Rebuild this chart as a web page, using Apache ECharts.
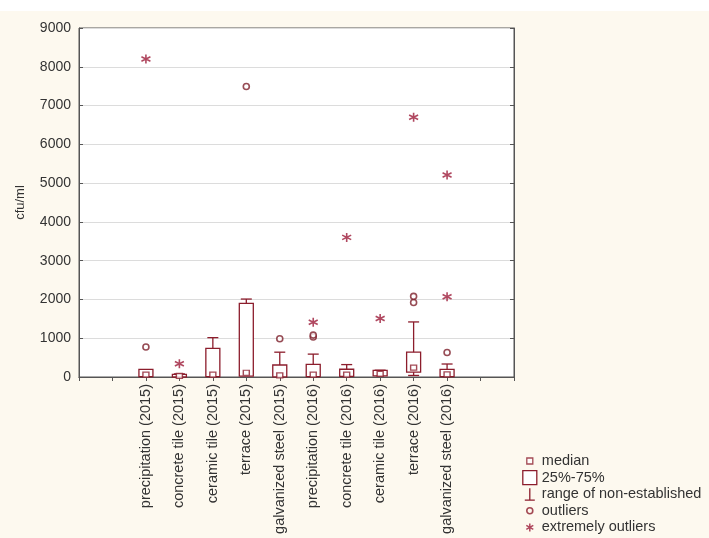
<!DOCTYPE html>
<html>
<head>
<meta charset="utf-8">
<script src="https://cdn.jsdelivr.net/npm/echarts@6/dist/echarts.min.js"></script>
<style>
html, body { margin: 0; padding: 0; background: #fdf9ef; }
#chart { width: 709px; height: 538px; }
</style>
</head>
<body>
<div id="chart"></div>
<script>
var categories = ['precipitation (2015)', 'concrete tile (2015)', 'ceramic tile (2015)', 'terrace (2015)', 'galvanized steel (2015)',
  'precipitation (2016)', 'concrete tile (2016)', 'ceramic tile (2016)', 'terrace (2016)', 'galvanized steel (2016)'];
// box 25%-75%
var q1 = [10, 0, 10, 20, 5, 10, 15, 30, 125, 10];
var q3 = [195, 70, 740, 1900, 310, 325, 200, 170, 640, 195];
var medians = [60, 30, 60, 110, 40, 60, 60, 80, 240, 70];
// range of non-established (whiskers)
var whiskerHigh = [195, 80, 1015, 2010, 640, 590, 320, 175, 1420, 335];
var whiskerLow = [10, 0, 10, 20, 5, 10, 15, 30, 40, 10];
var outliers = [
  ['precipitation (2015)', 775], ['terrace (2015)', 7490], ['galvanized steel (2015)', 985],
  ['precipitation (2016)', 1030], ['precipitation (2016)', 1080],
  ['terrace (2016)', 1920], ['terrace (2016)', 2080], ['galvanized steel (2016)', 630]
];
var extremes = [
  ['precipitation (2015)', 8200], ['concrete tile (2015)', 340], ['precipitation (2016)', 1410],
  ['concrete tile (2016)', 3600], ['ceramic tile (2016)', 1510], ['terrace (2016)', 6700],
  ['galvanized steel (2016)', 2070], ['galvanized steel (2016)', 5210]
];
var yTicks = { min: 0, max: 9000, step: 1000 };

var boxColor = '#8c1d2c';
var starColor = '#9c1a38';
// blank slots at both ends of the axis, like the original
var axisCats = ['', ' '].concat(categories, ['  ', '   ']);

var starPath = 'path://M5,0L5,10M0.7,2.5L9.3,7.5M0.7,7.5L9.3,2.5';

function renderBox(params, api) {
  var x = api.value(0);
  var lo = api.coord([x, api.value(1)]);
  var hi = api.coord([x, api.value(2)]);
  var half = 7;
  return {
    type: 'rect',
    shape: { x: hi[0] - half, y: hi[1], width: half * 2, height: Math.max(lo[1] - hi[1], 1) },
    style: { fill: '#fff', stroke: boxColor, lineWidth: 1.3 }
  };
}

function renderWhisker(params, api) {
  var x = api.value(0);
  var top = api.coord([x, api.value(1)]);
  var hi = api.coord([x, api.value(2)]);
  var bot = api.coord([x, api.value(3)]);
  var lo = api.coord([x, api.value(4)]);
  var cap = 5.5;
  var st = { stroke: boxColor, lineWidth: 1.3 };
  var kids = [];
  if (api.value(2) > api.value(1)) {
    kids.push({ type: 'line', shape: { x1: hi[0], y1: top[1], x2: hi[0], y2: hi[1] }, style: st });
    kids.push({ type: 'line', shape: { x1: hi[0] - cap, y1: hi[1], x2: hi[0] + cap, y2: hi[1] }, style: st });
  }
  if (api.value(4) < api.value(3)) {
    kids.push({ type: 'line', shape: { x1: lo[0], y1: bot[1], x2: lo[0], y2: lo[1] }, style: st });
    kids.push({ type: 'line', shape: { x1: lo[0] - cap, y1: lo[1], x2: lo[0] + cap, y2: lo[1] }, style: st });
  }
  return { type: 'group', children: kids };
}

var boxData = categories.map(function (c, i) { return [c, q1[i], q3[i]]; });
var whiskerData = categories.map(function (c, i) { return [c, q3[i], whiskerHigh[i], q1[i], whiskerLow[i]]; });
var medianData = categories.map(function (c, i) { return [c, medians[i]]; });

var chart = echarts.init(document.getElementById('chart'));
chart.setOption({
  backgroundColor: '#fdf9ef',
  animation: false,
  textStyle: { fontFamily: 'Liberation Sans, Arial, sans-serif' },
  graphic: [{
    type: 'rect', left: 0, top: 0, z: -10,
    shape: { width: 709, height: 11 },
    style: { fill: '#ffffff' }
  }],
  grid: { left: 79, top: 28, width: 435, height: 349, show: true, backgroundColor: '#fff', borderColor: '#555', borderWidth: 1 },
  legend: {
    orient: 'vertical',
    left: 522,
    top: 453,
    padding: 0,
    itemWidth: 14,
    itemHeight: 14,
    itemGap: 0.6,
    textStyle: { color: '#333', fontSize: 14.5, lineHeight: 16 },
    data: [
      { name: 'median', icon: 'path://M0,0M14,14M4,4L10,4L10,10L4,10Z',
        itemStyle: { color: '#fff', borderColor: boxColor, borderWidth: 1.3 } },
      { name: '25%-75%', icon: 'rect',
        itemStyle: { color: '#fff', borderColor: boxColor, borderWidth: 1.3 } },
      { name: 'range of non-established', icon: 'path://M0,0M14,14M7,1L7,13M2,13L12,13',
        itemStyle: { color: 'rgba(0,0,0,0)', borderColor: boxColor, borderWidth: 1.3 } },
      { name: 'outliers', icon: 'path://M0,0M14,14M7,4A3,3,0,1,1,6.99,4Z',
        itemStyle: { color: 'rgba(0,0,0,0)', borderColor: boxColor, borderWidth: 1.6 } },
      { name: 'extremely outliers', icon: 'path://M0,0M14,14M7,3L7,11M3.5,5L10.5,9M3.5,9L10.5,5',
        itemStyle: { color: 'rgba(0,0,0,0)', borderColor: starColor, borderWidth: 1.5 } }
    ]
  },
  xAxis: [{
    type: 'category',
    data: axisCats,
    boundaryGap: false,
    axisLine: { lineStyle: { color: '#555' } },
    axisTick: { show: false },
    axisLabel: { rotate: 90, interval: 0, color: '#333', fontSize: 14.5, margin: 7 },
    splitLine: { show: false }
  }, {
    type: 'category',
    position: 'top',
    data: axisCats,
    boundaryGap: false,
    axisLine: { lineStyle: { color: '#555' } },
    axisTick: { show: true, inside: true, length: 4, interval: 0, lineStyle: { color: '#555' } },
    axisLabel: { show: false },
    splitLine: { show: false }
  }],
  yAxis: [{
    type: 'value',
    min: yTicks.min,
    max: yTicks.max,
    interval: yTicks.step,
    name: 'cfu/ml',
    nameLocation: 'middle',
    nameGap: 52,
    nameTextStyle: { color: '#333', fontSize: 13 },
    axisLine: { show: true, lineStyle: { color: '#555' } },
    axisTick: { show: true, inside: true, length: 4, lineStyle: { color: '#555' } },
    axisLabel: { color: '#333', fontSize: 14, margin: 8, formatter: function (v) { return String(v); } },
    splitLine: { lineStyle: { color: '#dcdcdc' } }
  }, {
    type: 'value',
    position: 'right',
    min: yTicks.min,
    max: yTicks.max,
    interval: yTicks.step,
    axisLine: { show: true, lineStyle: { color: '#555' } },
    axisTick: { show: true, inside: true, length: 4, lineStyle: { color: '#555' } },
    axisLabel: { show: false },
    splitLine: { show: false }
  }],
  series: [{
    name: '25%-75%',
    type: 'custom',
    renderItem: renderBox,
    itemStyle: { color: '#fff', borderColor: boxColor },
    encode: { x: 0, y: [1, 2] },
    data: boxData,
    z: 2
  }, {
    name: 'range of non-established',
    type: 'custom',
    renderItem: renderWhisker,
    itemStyle: { color: boxColor },
    encode: { x: 0, y: [1, 2, 3, 4] },
    data: whiskerData,
    z: 2
  }, {
    name: 'median',
    type: 'scatter',
    symbol: 'rect',
    symbolSize: [6, 5],
    itemStyle: { color: '#fff', borderColor: boxColor, borderWidth: 1.3 },
    data: medianData,
    z: 3
  }, {
    name: 'outliers',
    type: 'scatter',
    symbol: 'circle',
    symbolSize: 6,
    itemStyle: { color: '#fff', borderColor: '#7d1f2a', borderWidth: 1.6 },
    data: outliers,
    z: 3
  }, {
    name: 'extremely outliers',
    type: 'scatter',
    symbol: starPath,
    symbolSize: 9,
    itemStyle: { color: 'rgba(0,0,0,0)', borderColor: starColor, borderWidth: 1.6 },
    data: extremes,
    z: 3
  }]
});
</script>
</body>
</html>
